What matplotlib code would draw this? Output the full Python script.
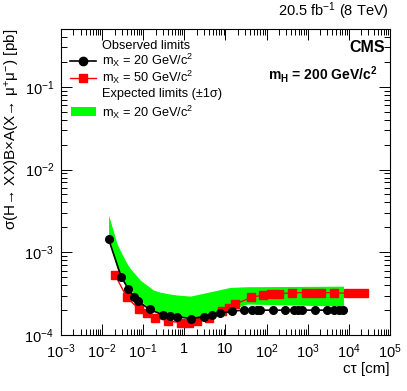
import matplotlib
matplotlib.use('Agg')
import matplotlib.pyplot as plt
from matplotlib.ticker import LogLocator, FuncFormatter, NullFormatter
import numpy as np

plt.rcParams['font.family'] = ['Liberation Sans', 'DejaVu Sans']
plt.rcParams['mathtext.fontset'] = 'custom'
plt.rcParams['mathtext.rm'] = 'Liberation Sans'
plt.rcParams['mathtext.it'] = 'Liberation Sans:italic'
plt.rcParams['mathtext.bf'] = 'Liberation Sans:bold'

# observed, m_X = 20 GeV
obs20_ct = [0.0143, 0.029, 0.0437, 0.060, 0.0726, 0.143, 0.295, 0.45, 0.66, 1.48,
            2.95, 4.7, 7.3, 14.5, 27.9, 44.8, 59, 71, 144, 288, 464, 580, 740,
            1480, 2900, 4370, 5780, 7400]
obs20_lim = [1.45e-3, 5.07e-4, 3.57e-4, 2.9e-4, 2.6e-4, 2.04e-4, 1.76e-4, 1.7e-4,
             1.67e-4, 1.58e-4, 1.67e-4, 1.75e-4, 1.83e-4, 1.95e-4, 2.0e-4, 2.0e-4,
             2.0e-4, 2.0e-4, 2.0e-4, 2.0e-4, 2.0e-4, 2.0e-4, 2.0e-4, 2.0e-4,
             2.0e-4, 2.0e-4, 2.0e-4, 2.0e-4]

# observed, m_X = 50 GeV
obs50_ct = [0.0207, 0.040, 0.080, 0.123, 0.196, 0.39, 0.83, 1.27, 2.04, 4.07, 8.3,
            12, 17.5, 42, 83, 126, 200, 425, 890, 1420, 2080, 4280, 9300, 14800, 23500]
obs50_lim = [5.3e-4, 2.85e-4, 2.04e-4, 1.83e-4, 1.63e-4, 1.48e-4, 1.41e-4, 1.41e-4,
             1.48e-4, 1.63e-4, 1.93e-4, 2.14e-4, 2.37e-4, 2.85e-4, 3.05e-4, 3.1e-4,
             3.15e-4, 3.25e-4, 3.25e-4, 3.25e-4, 3.25e-4, 3.25e-4, 3.2e-4, 3.2e-4, 3.2e-4]

# expected +-1 sigma band, m_X = 20 GeV
exp_ct = [0.0143, 0.0229, 0.0275, 0.040, 0.048, 0.0845, 0.1016, 0.178, 0.26, 0.45,
          0.66, 1.4, 4.3, 11, 13.2, 34, 7400]
exp_hi = [2.83e-3, 1.28e-3, 1.05e-3, 7.36e-4, 6.4e-4, 4.62e-4, 4.3e-4, 3.5e-4, 3.3e-4,
          3.13e-4, 3.05e-4, 2.96e-4, 3.34e-4, 3.7e-4, 3.77e-4, 3.84e-4, 3.9e-4]
exp_lo = [1.41e-3, 6.4e-4, 5.07e-4, 3.8e-4, 3.5e-4, 2.6e-4, 2.41e-4, 1.95e-4, 1.83e-4,
          1.7e-4, 1.67e-4, 1.63e-4, 1.75e-4, 2.0e-4, 2.05e-4, 2.37e-4, 2.24e-4]

fig = plt.figure(figsize=(4.07, 3.91), dpi=100)
ax = fig.add_axes([0.150, 0.143, 0.808, 0.783])

ax.fill_between(exp_ct, exp_lo, exp_hi, color='#00ff00', lw=0, zorder=1)
ax.plot(obs20_ct, obs20_lim, '-o', color='black', ms=5.5, lw=1.2, zorder=3)
ax.plot(obs50_ct, obs50_lim, '-s', color='red', ms=5.5, lw=1.0, zorder=2)

ax.set_xscale('log')
ax.set_yscale('log')
ax.set_xlim(1e-3, 1e5)
ax.set_ylim(1e-4, 0.5)

def fmt(v, pos):
    e = int(round(np.log10(v)))
    if e == 0:
        return '1'
    if e == 1:
        return '10'
    return r'$10^{%d}$' % e

ax.xaxis.set_major_locator(LogLocator(base=10, numticks=20))
ax.xaxis.set_minor_locator(LogLocator(base=10, subs=np.arange(2, 10), numticks=20))
ax.yaxis.set_major_locator(LogLocator(base=10, numticks=20))
ax.yaxis.set_minor_locator(LogLocator(base=10, subs=np.arange(2, 10), numticks=20))
ax.xaxis.set_major_formatter(FuncFormatter(fmt))
ax.yaxis.set_major_formatter(FuncFormatter(fmt))
ax.xaxis.set_minor_formatter(NullFormatter())
ax.yaxis.set_minor_formatter(NullFormatter())
ax.tick_params(which='both', direction='in', top=True, right=True, labelsize=10.5, width=0.7)
ax.tick_params(which='major', length=8, pad=5)
ax.tick_params(which='minor', length=4)
for s in ax.spines.values():
    s.set_linewidth(0.8)

ax.set_xlabel('cτ [cm]', fontsize=11, loc='right', labelpad=1)
ax.set_ylabel(r'σ(H→ XX)B×A(X→ $\mathregular{\mu^{+}\mu^{-}}$) [pb]',
              fontsize=11, loc='top', labelpad=2)

fig.text(0.955, 0.945, r'20.5 fb$^{-1}$ (8 TeV)', ha='right', va='bottom', fontsize=10.5)
ax.text(0.985, 0.939, 'CMS', transform=ax.transAxes, ha='right', va='center',
        fontsize=11.5, fontweight='bold')
ax.text(0.963, 0.850, r'$\mathbf{m_{H}}$ = 200 GeV/c$^{\mathbf{2}}$', transform=ax.transAxes,
        ha='right', va='center', fontsize=10, fontweight='bold')

# legend drawn by hand
lx0, lx1, tx = 0.027, 0.107, 0.126
fs = 9.2
ax.text(tx, 0.944, 'Observed limits', transform=ax.transAxes, va='center', fontsize=fs)
ax.plot([lx0, lx1], [0.896, 0.896], '-', color='black', lw=1.2, transform=ax.transAxes)
ax.plot([(lx0 + lx1) / 2], [0.896], 'o', color='black', ms=6, transform=ax.transAxes)
ax.text(tx, 0.896, r'm$_{\mathrm{X}}$ = 20 GeV/c$^{2}$', transform=ax.transAxes, va='center', fontsize=fs)
ax.plot([lx0, lx1], [0.841, 0.841], '-', color='red', lw=1.0, transform=ax.transAxes)
ax.plot([(lx0 + lx1) / 2], [0.841], 's', color='red', ms=6, transform=ax.transAxes)
ax.text(tx, 0.841, r'm$_{\mathrm{X}}$ = 50 GeV/c$^{2}$', transform=ax.transAxes, va='center', fontsize=fs)
ax.text(tx, 0.786, 'Expected limits (±1σ)', transform=ax.transAxes, va='center', fontsize=fs)
ax.add_patch(plt.Rectangle((lx0 + 0.003, 0.714), lx1 - lx0 - 0.003, 0.03, color='#00ff00',
                           transform=ax.transAxes, lw=0))
ax.text(tx, 0.729, r'm$_{\mathrm{X}}$ = 20 GeV/c$^{2}$', transform=ax.transAxes, va='center', fontsize=fs)

fig.savefig('out.png', dpi=100)
